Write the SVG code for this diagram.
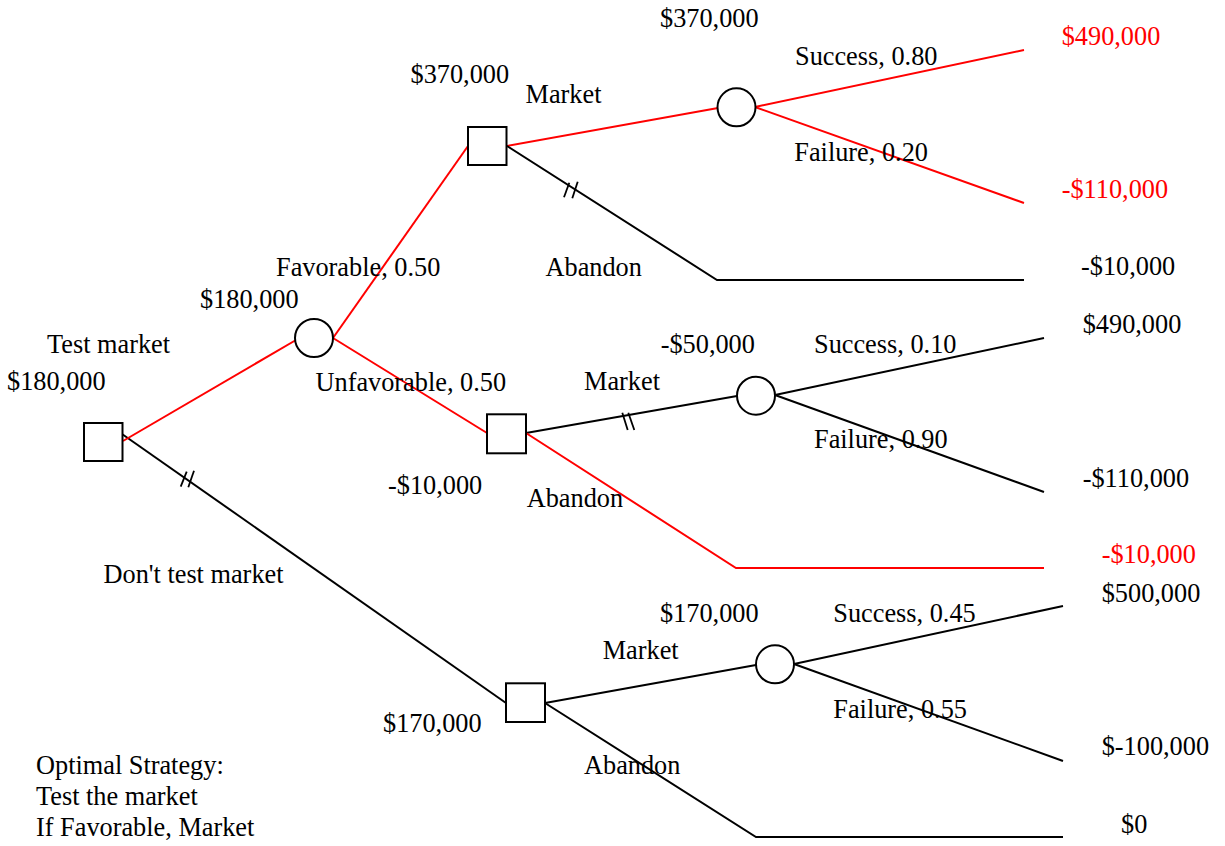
<svg xmlns="http://www.w3.org/2000/svg" width="1225" height="846" viewBox="0 0 1225 846">
<style>
  text { font-family: "Liberation Serif", "Times New Roman", serif; font-size: 26.3px; fill: #000; }
  text.opt { fill: #ff0000; }
  .ln { stroke: #000; stroke-width: 2; fill: none; }
  .red { stroke: #ff0000; stroke-width: 2; fill: none; }
  .node { fill: #fff; stroke: #000; stroke-width: 2; }
  .hash { stroke: #000; stroke-width: 1.8; fill: none; }
</style>
<rect width="1225" height="846" fill="#fff"/>
<g id="connectors">
  <!-- root branches -->
  <line class="ln" x1="122" y1="434" x2="506" y2="703"/>
  <line class="red" x1="123" y1="441" x2="296" y2="340"/>
  <!-- favorable / unfavorable -->
  <line class="red" x1="333" y1="338" x2="468" y2="146"/>
  <line class="red" x1="333" y1="338" x2="487" y2="433"/>
  <!-- favorable decision -->
  <line class="red" x1="507" y1="146" x2="718" y2="108"/>
  <polyline class="ln" points="507,146 717,280 1024,280"/>
  <line class="red" x1="755" y1="107" x2="1024" y2="50"/>
  <line class="red" x1="755" y1="107" x2="1024" y2="203"/>
  <!-- unfavorable decision -->
  <line class="ln" x1="526" y1="433" x2="737" y2="396"/>
  <polyline class="red" points="526,433 736,568 1044,568"/>
  <line class="ln" x1="775" y1="395" x2="1044" y2="338"/>
  <line class="ln" x1="775" y1="395" x2="1044" y2="492"/>
  <!-- don't test decision -->
  <line class="ln" x1="545" y1="703" x2="756" y2="665"/>
  <polyline class="ln" points="545,703 756,837 1063,837"/>
  <line class="ln" x1="794" y1="664" x2="1063" y2="606"/>
  <line class="ln" x1="794" y1="664" x2="1063" y2="761"/>
  <!-- pruned-branch marks -->
  <line class="hash" x1="186.7" y1="471.7" x2="180.7" y2="486.7"/>
  <line class="hash" x1="194" y1="470.7" x2="188.3" y2="487.3"/>
  <line class="hash" x1="569.3" y1="182.7" x2="564" y2="197.3"/>
  <line class="hash" x1="577.7" y1="181.7" x2="572.3" y2="198.3"/>
  <line class="hash" x1="622.3" y1="412.7" x2="627.7" y2="430"/>
  <line class="hash" x1="628.3" y1="412.7" x2="634.3" y2="430"/>
</g>
<g id="root-decision">
  <rect class="node" x="84" y="423" width="38.5" height="38"/>
  <text x="47" y="352.7">Test market</text>
  <text x="7" y="390">$180,000</text>
  <text x="103.5" y="582.7">Don't test market</text>
</g>
<g id="test-chance">
  <circle class="node" cx="314" cy="338" r="19"/>
  <text x="200" y="308">$180,000</text>
  <text x="276" y="276">Favorable, 0.50</text>
  <text x="315.5" y="390.7">Unfavorable, 0.50</text>
</g>
<g id="favorable-decision">
  <rect class="node" x="468" y="127" width="38.5" height="38"/>
  <text x="410.5" y="83">$370,000</text>
  <text x="525.5" y="103">Market</text>
  <text x="545.5" y="276">Abandon</text>
</g>
<g id="favorable-market-chance">
  <circle class="node" cx="736.5" cy="107.3" r="19"/>
  <text x="660" y="26.7">$370,000</text>
  <text x="795" y="65">Success, 0.80</text>
  <text x="794.3" y="161">Failure, 0.20</text>
  <text class="opt" x="1061.7" y="45">$490,000</text>
  <text class="opt" x="1061.7" y="198.3">-$110,000</text>
  <text x="1081" y="275">-$10,000</text>
</g>
<g id="unfavorable-decision">
  <rect class="node" x="487" y="414.3" width="39" height="39"/>
  <text x="388" y="494">-$10,000</text>
  <text x="584" y="390">Market</text>
  <text x="526.7" y="506.7">Abandon</text>
</g>
<g id="unfavorable-market-chance">
  <circle class="node" cx="756" cy="395.7" r="19"/>
  <text x="660.7" y="352.7">-$50,000</text>
  <text x="814" y="352.7">Success, 0.10</text>
  <text x="814" y="448.3">Failure, 0.90</text>
  <text x="1082.7" y="333.3">$490,000</text>
  <text x="1082.7" y="486.7">-$110,000</text>
  <text class="opt" x="1101.7" y="563.3">-$10,000</text>
</g>
<g id="no-test-decision">
  <rect class="node" x="506" y="683.3" width="39" height="38.7"/>
  <text x="383" y="731.7">$170,000</text>
  <text x="602.7" y="659.3">Market</text>
  <text x="584" y="774.3">Abandon</text>
</g>
<g id="no-test-market-chance">
  <circle class="node" cx="775" cy="664.3" r="19"/>
  <text x="660" y="621.7">$170,000</text>
  <text x="833.3" y="621.7">Success, 0.45</text>
  <text x="833.3" y="717.7">Failure, 0.55</text>
  <text x="1101.7" y="602.3">$500,000</text>
  <text x="1101.7" y="755">$-100,000</text>
  <text x="1121" y="832.7">$0</text>
</g>
<g id="strategy-note">
  <text x="36" y="774.3">Optimal Strategy:</text>
  <text x="36" y="805">Test the market</text>
  <text x="36" y="835.7">If Favorable, Market</text>
</g>
</svg>
